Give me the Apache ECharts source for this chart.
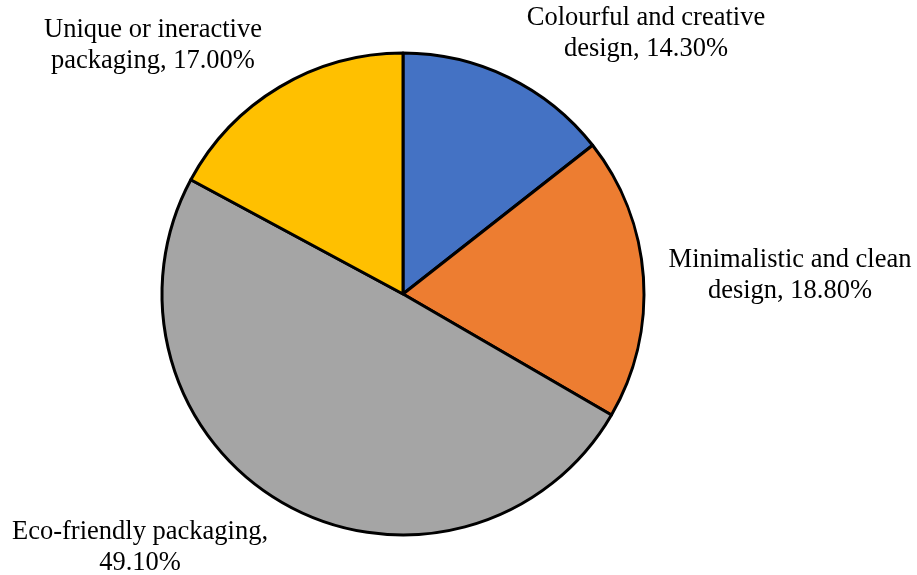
<!DOCTYPE html>
<html><head><meta charset="utf-8">
<script src="https://cdn.jsdelivr.net/npm/echarts@6/dist/echarts.min.js"></script>
<style>html,body{margin:0;padding:0;background:#fff}#c{width:917px;height:575px}</style>
</head><body><div id="c"></div>
<script>
var categories = ["Colourful and creative\ndesign", "Minimalistic and clean\ndesign", "Eco-friendly packaging", "Unique or ineractive\npackaging"];
var values = [14.3, 18.8, 49.1, 17.0];
var colors = ["#4472C4", "#ED7D31", "#A5A5A5", "#FFC000"];

var labelPos = [
  {x: 646, y: 34},
  {x: 790, y: 276},
  {x: 140, y: 548},
  {x: 153, y: 46}
];

var chart = echarts.init(document.getElementById('c'));
chart.setOption({
  animation: false,
  series: [{
    type: 'pie',
    center: [403, 294],
    radius: 241,
    startAngle: 90,
    clockwise: true,
    data: categories.map(function(c, i){
      var pct = values[i].toFixed(2) + '%';
      var text = (i === 2) ? c + ',\n' + pct : c + ', ' + pct;
      return {
        value: values[i], name: c,
        itemStyle: {color: colors[i]},
        label: {formatter: text}
      };
    }),
    itemStyle: {borderColor: '#000', borderWidth: 3},
    label: {show: true, position: 'outside', color: '#000', fontFamily: 'Liberation Serif', fontSize: 26.5, lineHeight: 31, align: 'center', overflow: 'none', width: 400},
    labelLine: {show: false},
    labelLayout: function(p){
      var lp = labelPos[p.dataIndex];
      return {x: lp.x, y: lp.y, align: 'center', verticalAlign: 'middle'};
    },
    emphasis: {disabled: true}
  }]
});
</script></body></html>
